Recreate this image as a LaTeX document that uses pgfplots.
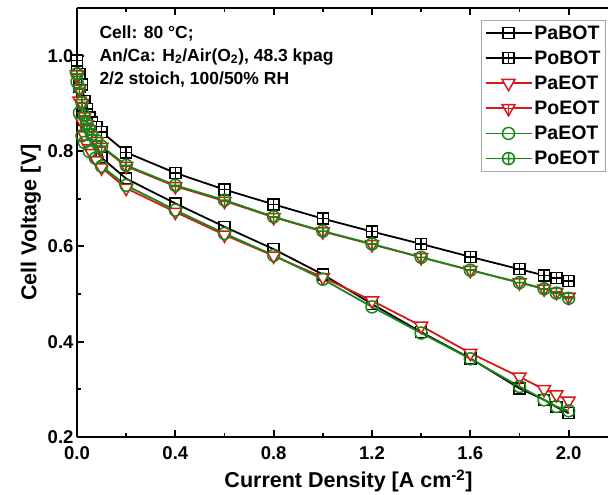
\documentclass[border=0pt]{standalone}
\usepackage{fontspec}
\setmainfont{Liberation Sans}
\usepackage{pgfplots}
\pgfplotsset{compat=1.18}
\definecolor{cred}{RGB}{215,25,25}
\definecolor{cgreen}{RGB}{25,135,25}

\pgfdeclareplotmark{boxplus}{%
  \pgfpathrectangle{\pgfpoint{-\pgfplotmarksize}{-\pgfplotmarksize}}{\pgfpoint{2\pgfplotmarksize}{2\pgfplotmarksize}}%
  \pgfusepathqfillstroke
  \pgfpathmoveto{\pgfpoint{-\pgfplotmarksize}{0pt}}\pgfpathlineto{\pgfpoint{\pgfplotmarksize}{0pt}}%
  \pgfpathmoveto{\pgfpoint{0pt}{-\pgfplotmarksize}}\pgfpathlineto{\pgfpoint{0pt}{\pgfplotmarksize}}%
  \pgfusepathqstroke}
\pgfdeclareplotmark{tridown}{%
  \pgfpathmoveto{\pgfpoint{0pt}{-\pgfplotmarksize}}%
  \pgfpathlineto{\pgfpoint{0.866\pgfplotmarksize}{0.5\pgfplotmarksize}}%
  \pgfpathlineto{\pgfpoint{-0.866\pgfplotmarksize}{0.5\pgfplotmarksize}}%
  \pgfpathclose
  \pgfusepathqfillstroke}
\pgfdeclareplotmark{tridownplus}{%
  \pgfpathmoveto{\pgfpoint{0pt}{-\pgfplotmarksize}}%
  \pgfpathlineto{\pgfpoint{0.866\pgfplotmarksize}{0.5\pgfplotmarksize}}%
  \pgfpathlineto{\pgfpoint{-0.866\pgfplotmarksize}{0.5\pgfplotmarksize}}%
  \pgfpathclose
  \pgfusepathqfillstroke
  \pgfpathmoveto{\pgfpoint{-0.6\pgfplotmarksize}{0pt}}\pgfpathlineto{\pgfpoint{0.6\pgfplotmarksize}{0pt}}%
  \pgfpathmoveto{\pgfpoint{0pt}{-\pgfplotmarksize}}\pgfpathlineto{\pgfpoint{0pt}{0.5\pgfplotmarksize}}%
  \pgfusepathqstroke}

\begin{document}
\begin{tikzpicture}
\begin{axis}[
  scale only axis,
  width=531pt, height=429pt,
  xmin=0, xmax=2.16, ymin=0.2, ymax=1.1,
  axis x line*=box, axis y line*=left,
  axis line style={line width=2pt},
  xtick={0,0.4,...,2.0}, ytick={0.2,0.4,...,1.0},
  minor x tick num=1, minor y tick num=1,
  tick align=inside,
  major tick length=7pt, minor tick length=4pt,
  every tick/.style={black,line width=1.8pt},
  /pgf/number format/.cd, fixed, fixed zerofill, precision=1, assume math mode=true,
  /pgfplots/.cd,
  ticklabel style={font=\fontsize{18.5}{20}\selectfont\bfseries},
  xticklabel style={yshift=-6pt},
  label style={font=\fontsize{21.5}{23}\selectfont\bfseries},
  xlabel style={xshift=6pt, yshift=-3pt},
  xlabel={Current Density [A cm\textsuperscript{-2}]},
  ylabel={Cell Voltage [V]},
  every axis plot/.append style={line width=1.8pt, mark options={solid, line width=1.5pt, fill=white}},
  legend style={at={(0.996,0.972)}, anchor=north east, draw=gray!70, line width=0.8pt,
    font=\fontsize{19.5}{21}\selectfont\bfseries, row sep=6pt, inner xsep=3pt, inner ysep=3pt},
  legend cell align=left,
  legend image code/.code={\draw[mark repeat=2,mark phase=2] plot coordinates {(0pt,0pt) (23pt,0pt) (46pt,0pt)};},
]
% PaBOT
\addplot[black, mark=square, mark size=5.5pt] coordinates {
(0,0.975) (0.01,0.935) (0.02,0.895) (0.03,0.865) (0.04,0.845) (0.05,0.832) (0.06,0.818) (0.08,0.800) (0.1,0.786)
(0.2,0.742) (0.4,0.690) (0.6,0.641) (0.8,0.594) (1.0,0.541) (1.2,0.479) (1.4,0.420) (1.6,0.365)
(1.8,0.302) (1.9,0.278) (1.95,0.263) (2.0,0.250)};
\addlegendentry{PaBOT}
% PoBOT
\addplot[black, mark=boxplus, mark size=5.5pt] coordinates {
(0,0.99) (0.01,0.962) (0.02,0.940) (0.03,0.905) (0.04,0.888) (0.05,0.870) (0.06,0.860) (0.08,0.850) (0.1,0.840)
(0.2,0.797) (0.4,0.754) (0.6,0.719) (0.8,0.688) (1.0,0.658) (1.2,0.631) (1.4,0.605) (1.6,0.578)
(1.8,0.552) (1.9,0.539) (1.95,0.534) (2.0,0.527)};
\addlegendentry{PoBOT}
% PaEOT red
\addplot[cred, mark=tridown, mark size=7.5pt] coordinates {
(0,0.955) (0.01,0.905) (0.02,0.862) (0.03,0.832) (0.04,0.815) (0.05,0.805) (0.06,0.795) (0.08,0.780) (0.1,0.765)
(0.2,0.722) (0.4,0.672) (0.6,0.624) (0.8,0.580) (1.0,0.535) (1.2,0.486) (1.4,0.433) (1.6,0.376)
(1.8,0.326) (1.9,0.300) (1.95,0.289) (2.0,0.276)};
\addlegendentry{PaEOT}
% PoEOT red
\addplot[cred, mark=tridownplus, mark size=7.5pt] coordinates {
(0,0.960) (0.01,0.930) (0.02,0.900) (0.03,0.872) (0.04,0.856) (0.05,0.845) (0.06,0.832) (0.08,0.820) (0.1,0.808)
(0.2,0.768) (0.4,0.726) (0.6,0.695) (0.8,0.661) (1.0,0.631) (1.2,0.604) (1.4,0.577) (1.6,0.550)
(1.8,0.524) (1.9,0.511) (1.95,0.504) (2.0,0.494)};
\addlegendentry{PoEOT}
% PaEOT green
\addplot[cgreen, mark=o, mark size=6pt] coordinates {
(0,0.945) (0.01,0.880) (0.02,0.832) (0.03,0.818) (0.05,0.799) (0.075,0.785) (0.1,0.768)
(0.2,0.728) (0.4,0.676) (0.6,0.627) (0.8,0.581) (1.0,0.531) (1.2,0.473) (1.4,0.418) (1.6,0.364)
(1.8,0.306) (1.9,0.278) (1.95,0.264) (2.0,0.255)};
\addlegendentry{PaEOT}
% PoEOT green
\addplot[cgreen, mark=oplus, mark size=6pt] coordinates {
(0,0.962) (0.01,0.932) (0.02,0.902) (0.03,0.874) (0.04,0.858) (0.05,0.846) (0.06,0.834) (0.08,0.822) (0.1,0.810)
(0.2,0.770) (0.4,0.728) (0.6,0.697) (0.8,0.662) (1.0,0.632) (1.2,0.605) (1.4,0.577) (1.6,0.550)
(1.8,0.524) (1.9,0.511) (1.95,0.502) (2.0,0.491)};
\addlegendentry{PoEOT}
\node[anchor=north west, align=left, font=\fontsize{17.5}{23}\selectfont\bfseries, inner sep=0pt]
  at (axis description cs:0.042,0.960)
  {Cell: 80 °C;\\An/Ca: H\textsubscript{2}/Air(O\textsubscript{2}), 48.3 kpag\\2/2 stoich, 100/50\% RH};
\end{axis}
\pgfresetboundingbox
\path[use as bounding box] ([xshift=-77pt,yshift=-58pt]current axis.south west) rectangle ([yshift=8pt]current axis.north east);
\end{tikzpicture}
\end{document}
